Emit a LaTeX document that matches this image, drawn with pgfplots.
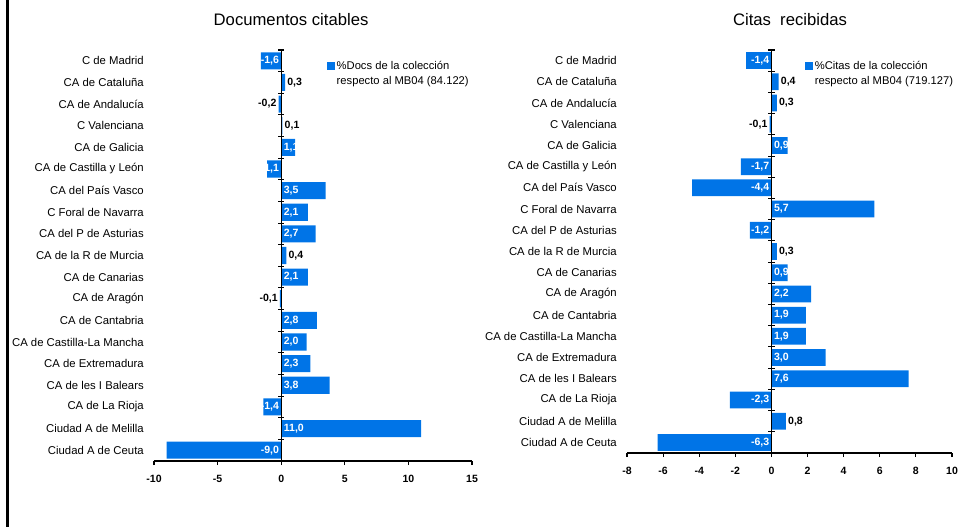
\documentclass[border=0pt]{standalone}
\usepackage{pgfplots}
\pgfplotsset{compat=1.18}
\usepackage{pgfplotstable}
\usepackage{fontspec}
\setmainfont{Liberation Sans}
\definecolor{barblue}{RGB}{0,116,231}

\newcommand{\catfont}{\fontsize{8.5}{9.5}\selectfont}
\newcommand{\legfont}{\fontsize{8.4}{11.3}\selectfont}
\newcommand{\lblfont}{\bfseries\fontsize{7.9}{9}\selectfont}

\pgfplotstableread{
idx val
0 -1.6
1 0.3
2 -0.2
3 0.1
4 1.1
5 -1.1
6 3.5
7 2.1
8 2.7
9 0.4
10 2.1
11 -0.1
12 2.8
13 2.0
14 2.3
15 3.8
16 -1.4
17 11.0
18 -9.0
}\docs

\pgfplotstableread{
idx val
0 -1.4
1 0.4
2 0.3
3 -0.1
4 0.9
5 -1.7
6 -4.4
7 5.7
8 -1.2
9 0.3
10 0.9
11 2.2
12 1.9
13 1.9
14 3.0
15 7.6
16 -2.3
17 0.8
18 -6.3
}\citas

\pgfplotsset{
  common/.style={
    scale only axis,
    y dir=reverse,
    ymin=-0.5, ymax=18.5,
    ytick={0,...,18},
    yticklabels={C de Madrid,CA de Cataluña,CA de Andalucía,C Valenciana,CA de Galicia,CA de Castilla y León,CA del País Vasco,C Foral de Navarra,CA del P de Asturias,CA de la R de Murcia,CA de Canarias,CA de Aragón,CA de Cantabria,CA de Castilla-La Mancha,CA de Extremadura,CA de les I Balears,CA de La Rioja,Ciudad A de Melilla,Ciudad A de Ceuta},
    axis x line*=bottom,
    axis y line*=left,
    y axis line style={draw=none},
    ytick style={draw=none},
    yticklabel style={font=\catfont, anchor=east, inner sep=0pt, xshift=-4.5pt},
    xticklabel style={font=\lblfont, yshift=-4pt},
    /pgf/number format/assume math mode=true,
    tick align=outside,
    x axis line style={black, line width=0.8pt},
    xtick style={black, line width=0.8pt},
    major tick length=3pt,
    enlargelimits=false,
    clip=false,
    legend style={draw=none, fill=none, font=\legfont, anchor=north west, inner sep=0pt,
      nodes={align=left, inner sep=1.5pt}},
    legend image code/.code={\fill[barblue] (0pt,3.2pt) rectangle (5.6pt,8.6pt);},
    title style={font=\fontsize{12.5}{14}\selectfont, anchor=center},
  },
  lwb/.style={draw=none, forget plot, nodes near coords, point meta=explicit symbolic,
    every node near coord/.append style={anchor=west, text=white, font=\lblfont, inner sep=1.8pt}},
  lwe/.style={draw=none, forget plot, nodes near coords, point meta=explicit symbolic,
    every node near coord/.append style={anchor=east, text=white, font=\lblfont, inner sep=1.5pt}},
  lbw/.style={draw=none, forget plot, nodes near coords, point meta=explicit symbolic,
    every node near coord/.append style={anchor=west, text=black, font=\lblfont, inner sep=1.5pt}},
  lbe/.style={draw=none, forget plot, nodes near coords, point meta=explicit symbolic,
    every node near coord/.append style={anchor=east, text=black, font=\lblfont, inner sep=1.5pt}},
}

\newcommand{\zeroaxis}{%
  \draw[line width=0.8pt] (axis cs:0,-0.5) -- (axis cs:0,18.5);
  \pgfplotsinvokeforeach{-0.5,0.5,1.5,2.5,3.5,4.5,5.5,6.5,7.5,8.5,9.5,10.5,11.5,12.5,13.5,14.5,15.5,16.5,17.5,18.5}{
    \draw[line width=0.8pt] ([xshift=-2.4pt]axis cs:0,##1) -- ([xshift=2.4pt]axis cs:0,##1);
  }%
}

\begin{document}
\begin{tikzpicture}
\path[use as bounding box] (0,0) rectangle (719.25pt,395.25pt);
\draw[line width=2pt] (5.6pt,0) -- (5.6pt,395.25pt);

% ---------- Left chart ----------
\begin{axis}[common,
  at={(115.5pt,49.5pt)}, anchor=south west,
  width=238.5pt, height=308.25pt,
  xmin=-10, xmax=15, xtick={-10,-5,0,5,10,15},
  title={Documentos citables},
  title style={at={(0.431,1)}, yshift=16.5pt},
  legend style={at={(0.544,0.978)}},
]
\addplot[xbar, bar width=0.79, fill=barblue, draw=none] table[x=val,y=idx]{\docs};
\addlegendentry{\%Docs de la colección\\respecto al MB04 (84.122)}
\zeroaxis
\addplot[lwb] table[x=x,y=y,meta=lab]{
x y lab
0 4 1,1
0 6 3,5
0 7 2,1
0 8 2,7
0 10 2,1
0 12 2,8
0 13 2,0
0 14 2,3
0 15 3,8
0 17 11,0
};
\addplot[lwe] table[x=x,y=y,meta=lab]{
x y lab
0 0 -1,6
0 5 -1,1
0 16 -1,4
0 18 -9,0
};
\addplot[lbw] table[x=x,y=y,meta=lab]{
x y lab
0.3 1 0,3
0.1 3 0,1
0.4 9 0,4
};
\addplot[lbe] table[x=x,y=y,meta=lab]{
x y lab
-0.2 2 -0,2
-0.1 11 -0,1
};
\end{axis}

% ---------- Right chart ----------
\begin{axis}[common,
  at={(470.25pt,55.5pt)}, anchor=south west,
  width=243.75pt, height=302.25pt,
  xmin=-8, xmax=10, xtick={-8,-6,...,10},
  title={Citas\ \ recibidas},
  title style={at={(0.5015,1)}, yshift=16.5pt},
  legend style={at={(0.548,0.978)}},
]
\addplot[xbar, bar width=0.79, fill=barblue, draw=none] table[x=val,y=idx]{\citas};
\addlegendentry{\%Citas de la colección\\respecto al MB04 (719.127)}
\zeroaxis
\addplot[lwb] table[x=x,y=y,meta=lab]{
x y lab
0 4 0,9
0 7 5,7
0 10 0,9
0 11 2,2
0 12 1,9
0 13 1,9
0 14 3,0
0 15 7,6
};
\addplot[lwe] table[x=x,y=y,meta=lab]{
x y lab
0 0 -1,4
0 5 -1,7
0 6 -4,4
0 8 -1,2
0 16 -2,3
0 18 -6,3
};
\addplot[lbw] table[x=x,y=y,meta=lab]{
x y lab
0.4 1 0,4
0.3 2 0,3
0.3 9 0,3
0.8 17 0,8
};
\addplot[lbe] table[x=x,y=y,meta=lab]{
x y lab
-0.1 3 -0,1
};
\end{axis}
\end{tikzpicture}
\end{document}
